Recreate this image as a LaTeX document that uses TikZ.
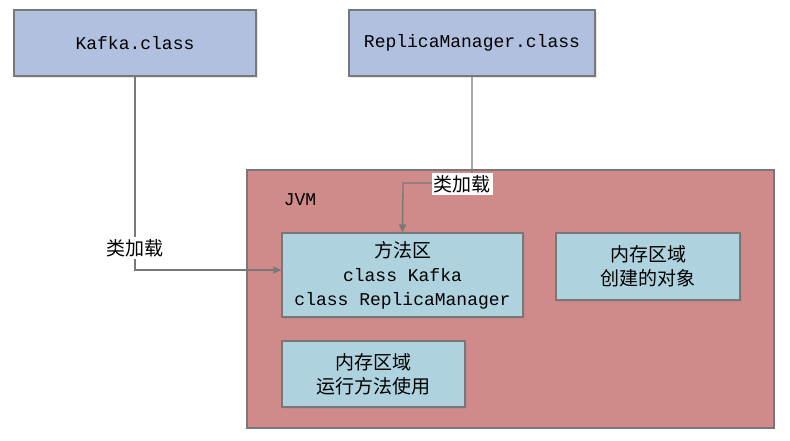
\documentclass[tikz,border=0pt]{standalone}
\usepackage{fontspec}
\setmonofont{Liberation Mono}
\newfontfamily\cjk{Noto Sans CJK SC}
\usetikzlibrary{positioning, arrows.meta, shadows}

\definecolor{classblue}{RGB}{176,192,222}
\definecolor{jvmred}{RGB}{208,138,138}
\definecolor{areablue}{RGB}{174,210,222}
\definecolor{edgegray}{RGB}{120,120,120}

\begin{document}
\begin{tikzpicture}[
    x=1pt, y=-1pt,
    font=\ttfamily\fontsize{18}{24}\selectfont,
    >={Triangle[length=8pt, width=7pt]},
    classbox/.style={rectangle, draw=edgegray, line width=1.3pt, fill=classblue, drop shadow={opacity=0.2, shadow xshift=1.5pt, shadow yshift=-1.5pt}, minimum height=66pt, align=center},
    jvmbox/.style={rectangle, draw=edgegray, line width=1.3pt, fill=jvmred, minimum width=527pt, minimum height=258pt},
    areabox/.style={rectangle, draw=edgegray, line width=1.3pt, fill=areablue, drop shadow={opacity=0.2, shadow xshift=1.5pt, shadow yshift=-1.5pt}, align=center, inner sep=2pt},
    loadlabel/.style={fill=white, inner sep=2pt, font=\cjk\fontsize{19}{22}\selectfont},
    link/.style={draw=edgegray, line width=1.3pt, ->}
]
\useasboundingbox (0,0) rectangle (790,440);

% 1. Class files (Top)
\node[classbox, minimum width=242pt] (kafka) at (135,43) {Kafka.class};
\node[classbox, minimum width=246pt] (replica) at (472,43) {ReplicaManager.class};

% 2. JVM
\node[jvmbox] (jvm) at (510.5,299) {};
\node (jvmlabel) at (300,200) {JVM};

% 3. Memory areas inside the JVM
\node[areabox, minimum width=241pt, minimum height=84pt] (method) at (402.5,275) {{\cjk\fontsize{19}{24}\selectfont 方法区}\\class Kafka\\class ReplicaManager};
\node[areabox, minimum width=184pt, minimum height=67pt, font=\cjk\fontsize{19}{24}\selectfont] (heap) at (648,266.5) {内存区域\\创建的对象};
\node[areabox, minimum width=183pt, minimum height=66pt, font=\cjk\fontsize{19}{24}\selectfont] (stack) at (373.5,374) {内存区域\\运行方法使用};

% Paths
\draw[link] (kafka.south) |- node[loadlabel, pos=0.443] (load1) {类加载} ([yshift=5pt]method.west);

\coordinate (turn) at (403,183);
\draw[link] (replica.south) |- (turn) -- (method.north);
\node[loadlabel] (load2) at (462,184) {类加载};

\end{tikzpicture}
\end{document}
